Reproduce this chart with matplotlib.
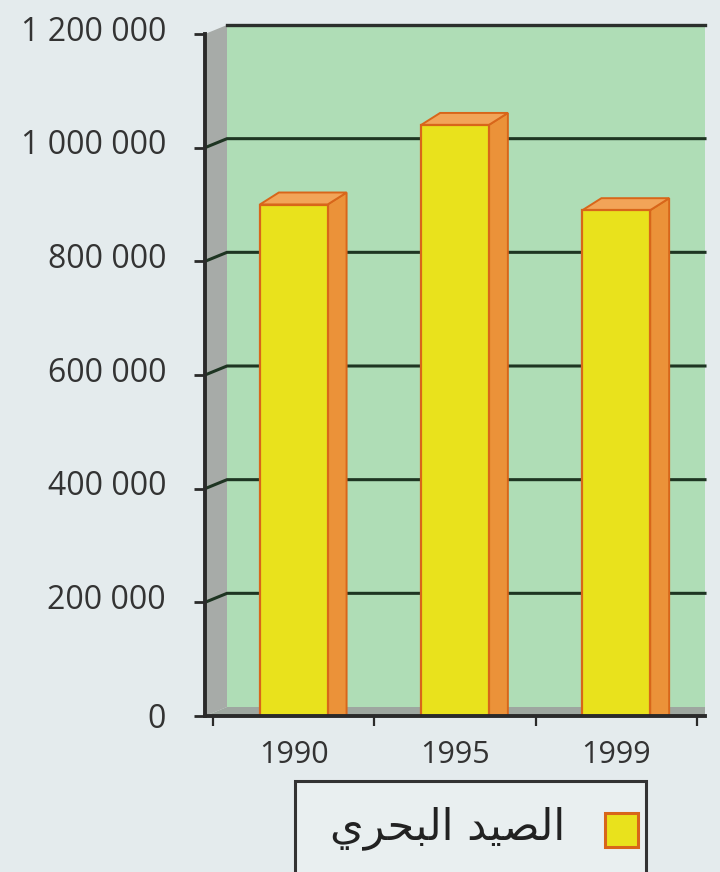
import matplotlib
matplotlib.use('Agg')
import matplotlib.pyplot as plt
from matplotlib.patches import Polygon, Rectangle
from matplotlib.lines import Line2D
from matplotlib.transforms import ScaledTranslation

# data
years = ['1990', '1995', '1999']
catch = [900000, 1040000, 890000]
y_ticks = [0, 200000, 400000, 600000, 800000, 1000000, 1200000]
legend_label = 'الصيد البحري'

# contextual forms (isolated, final, initial, medial) for the letters used
ARABIC_FORMS = {
    'ا': ('\ufe8d', '\ufe8e', None, None),
    'ل': ('\ufedd', '\ufede', '\ufedf', '\ufee0'),
    'ص': ('\ufeb9', '\ufeba', '\ufebb', '\ufebc'),
    'ي': ('\ufef1', '\ufef2', '\ufef3', '\ufef4'),
    'د': ('\ufea9', '\ufeaa', None, None),
    'ب': ('\ufe8f', '\ufe90', '\ufe91', '\ufe92'),
    'ح': ('\ufea1', '\ufea2', '\ufea3', '\ufea4'),
    'ر': ('\ufead', '\ufeae', None, None),
}


def shape_arabic(text):
    out = []
    for i, ch in enumerate(text):
        if ch not in ARABIC_FORMS:
            out.append(ch)
            continue
        prev = text[i - 1] if i > 0 else ''
        nxt = text[i + 1] if i + 1 < len(text) else ''
        iso, fin, ini, med = ARABIC_FORMS[ch]
        join_prev = prev in ARABIC_FORMS and ARABIC_FORMS[prev][2] is not None
        join_next = nxt in ARABIC_FORMS and ini is not None
        if join_prev and join_next:
            out.append(med)
        elif join_prev:
            out.append(fin)
        elif join_next:
            out.append(ini)
        else:
            out.append(iso)
    return ''.join(reversed(out))


W, H = 720, 872
BG = '#e4ebed'
WALL_DX, WALL_DY = 22, 9     # depth of the walls, pixels
BAR_DX, BAR_DY = 19, 12      # depth of the bars, pixels
BAR_W = 0.42
X0, X1 = -0.55, 2.55
Y0, Y1 = 0, 1200000


def fig_box(left, top, right, bottom):
    return [left / W, 1 - bottom / H, (right - left) / W, (bottom - top) / H]


fig = plt.figure(figsize=(W / 100, H / 100), dpi=100)
fig.patch.set_facecolor(BG)
ax = fig.add_axes(fig_box(205, 34, 705, 716))
ax.set_xlim(X0, X1)
ax.set_ylim(Y0, Y1)
ax.set_facecolor('none')


def shifted(x, y, dx, dy):
    px, py = ax.transData.transform((x, y))
    return tuple(ax.transData.inverted().transform((px + dx, py + dy)))


def poly(points, **kw):
    ax.add_patch(Polygon(points, closed=True, clip_on=False, **kw))


# back wall, left wall and floor
bx0, by1 = shifted(X0, Y1, WALL_DX, WALL_DY)
_, by0 = shifted(X0, Y0, WALL_DX, WALL_DY)
poly([(bx0, by0), (bx0, by1), (X1, by1), (X1, by0)], facecolor='#afddb6', edgecolor='none', zorder=0)
poly([(X0, Y0), (X0, Y1), (bx0, by1), (bx0, by0)], facecolor='#a7aba8', edgecolor='none', zorder=0.5)
poly([(X0, Y0), (X1, Y0), (X1, by0), (bx0, by0)], facecolor='#9ea7a0', edgecolor='none', zorder=0.5)
ax.add_line(Line2D([bx0, X1], [by1, by1], color='#2b2f2c', lw=2.4, clip_on=False, zorder=1))

# grid lines running onto the back wall
for v in y_ticks[1:-1]:
    gx, gy = shifted(X0, v, WALL_DX, WALL_DY)
    ax.add_line(Line2D([X0, gx, X1], [v, gy, gy], color='#1e3522', lw=2.2, clip_on=False, zorder=1))

# bars
for i, v in enumerate(catch):
    xl, xr = i - BAR_W / 2, i + BAR_W / 2
    poly([(xr, 0), (xr, v), shifted(xr, v, BAR_DX, BAR_DY), shifted(xr, 0, BAR_DX, 0)],
         facecolor='#eb9239', edgecolor='#d8661a', lw=1.4, zorder=2)
    poly([(xl, v), (xr, v), shifted(xr, v, BAR_DX, BAR_DY), shifted(xl, v, BAR_DX, BAR_DY)],
         facecolor='#f2a458', edgecolor='#d8661a', lw=1.4, zorder=2)
    ax.add_patch(Rectangle((xl, 0), BAR_W, v, facecolor='#e9e21c', edgecolor='#d8661a',
                           lw=1.6, zorder=3))

# axes
for side in ('top', 'right'):
    ax.spines[side].set_visible(False)
for side in ('left', 'bottom'):
    ax.spines[side].set_color('#2a2a2a')
    ax.spines[side].set_linewidth(2.8)
    ax.spines[side].set_zorder(4)

ax.set_yticks(y_ticks)
ax.set_yticklabels([f'{v:,}'.replace(',', ' ') for v in y_ticks],
                   fontsize=23, family='Open Sans', color='#333333')
ax.tick_params(axis='y', length=8, width=2, color='#2a2a2a', pad=20)
for lab, v in zip(ax.get_yticklabels(), y_ticks):
    if v:
        lab.set_transform(lab.get_transform() + ScaledTranslation(0, 0.06, fig.dpi_scale_trans))

ax.set_xticks([-0.5, 0.5, 1.5, 2.5])
ax.set_xticklabels([])
ax.set_xticks(range(len(years)), minor=True)
ax.set_xticklabels(years, minor=True, fontsize=22, family='Open Sans', color='#333333')
ax.tick_params(axis='x', which='major', length=7, width=1.6, color='#2a2a2a')
ax.tick_params(axis='x', which='minor', length=0, pad=17)

# legend box, running past the bottom edge
fig.patches.append(Rectangle((295 / W, -0.05), (646 - 295) / W, 0.05 + 1 - 781 / H,
                             transform=fig.transFigure, facecolor='#e9eff0',
                             edgecolor='#333333', lw=2.2, clip_on=False))
fig.patches.append(Rectangle((605 / W, 1 - 847 / H), 33 / W, 34 / H,
                             transform=fig.transFigure, facecolor='#e9e21c',
                             edgecolor='#d8661a', lw=2.2))
fig.text(565 / W, 1 - 828 / H, shape_arabic(legend_label), family=['DejaVu Sans'],
         fontsize=31, color='#222222', ha='right', va='center')

fig.savefig('out.png', dpi=100, facecolor=fig.get_facecolor())
